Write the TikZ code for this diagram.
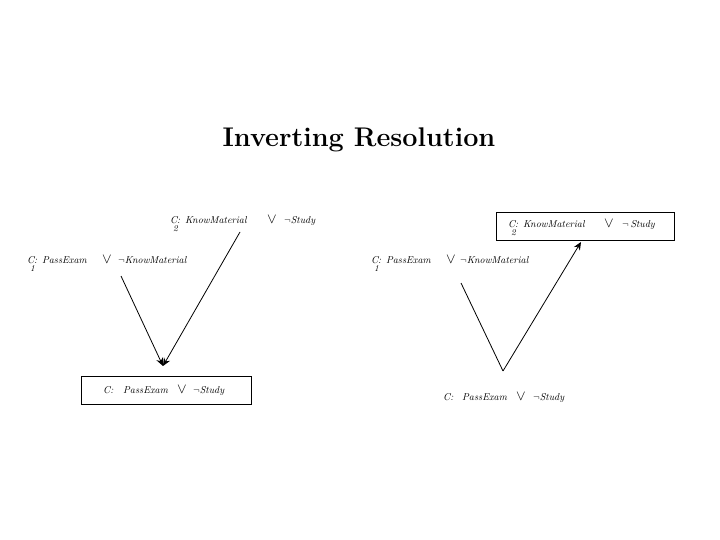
\documentclass[tikz,border=0pt]{standalone}
\usetikzlibrary{arrows.meta}
\begin{document}
\begin{tikzpicture}[x=1pt,y=-1pt,
  lit/.style={inner sep=0pt,anchor=base west,font=\fontsize{10}{12}\selectfont\itshape},
  sub/.style={inner sep=0pt,anchor=base west,font=\fontsize{9}{11}\selectfont\itshape},
  orsym/.style={inner sep=0pt,anchor=base,font=\fontsize{14}{16}\selectfont},
  edge/.style={line width=0.8pt},
  arr/.style={edge,-{Stealth[length=8pt,width=7pt]}},
  clausebox/.style={draw,line width=0.8pt,inner sep=0pt}]
\useasboundingbox (0,0) rectangle (720,540);
\node[inner sep=0pt,anchor=base,font=\fontsize{27}{32}\selectfont\bfseries] (title) at (359,147) {Inverting Resolution};

% ---------- left diagram ----------
\node[lit] (lc2) at (170,223) {C};
\node[sub] (lc2s) at (173,231) {2};
\node[lit] (lc2t) at (177,223) {: KnowMaterial};
\node[orsym] (lc2or) at (272,223) {$\vee$};
\node[lit] (lc2b) at (284,223) {$\neg$Study};

\node[lit] (lc1) at (27,263) {C};
\node[sub] (lc1s) at (30,271) {1};
\node[lit] (lc1t) at (34,263) {: PassExam};
\node[orsym] (lc1or) at (107,263) {$\vee$};
\node[lit] (lc1b) at (118,263) {$\neg$KnowMaterial};

\node[clausebox,minimum width=170pt,minimum height=28pt] (lbox) at (166,390) {};
\node[lit] (lc) at (103,393) {C:};
\node[lit] (lct) at (123,393) {PassExam};
\node[orsym] (lcor) at (182,393) {$\vee$};
\node[lit] (lcb) at (193,393) {$\neg$Study};

\coordinate (lv) at (163,366);
\coordinate (l1s) at (121,276);
\coordinate (l2s) at (240,232);
\draw[arr] (l1s) -- (lv);
\draw[arr] (l2s) -- (lv);

% ---------- right diagram ----------
\node[clausebox,minimum width=178pt,minimum height=28pt] (rbox) at (585,226) {};
\node[lit] (rc2) at (508,228) {C};
\node[sub] (rc2s) at (511,236) {2};
\node[lit] (rc2t) at (515,228) {: KnowMaterial};
\node[orsym] (rc2or) at (609,228) {$\vee$};
\node[lit] (rc2b) at (622,228) {$\neg$\,Study};

\node[lit] (rc1) at (371,263) {C};
\node[sub] (rc1s) at (374,271) {1};
\node[lit] (rc1t) at (378,263) {: PassExam};
\node[orsym] (rc1or) at (451,263) {$\vee$};
\node[lit] (rc1b) at (460,263) {$\neg$KnowMaterial};

\node[lit] (rc) at (443,400) {C:};
\node[lit] (rct) at (462,400) {PassExam};
\node[orsym] (rcor) at (521,400) {$\vee$};
\node[lit] (rcb) at (533,400) {$\neg$Study};

\coordinate (rv) at (503,371);
\coordinate (r1s) at (461,283);
\coordinate (r2e) at (581,242);
\draw[edge] (r1s) -- (rv);
\draw[arr] (rv) -- (r2e);
\end{tikzpicture}
\end{document}
